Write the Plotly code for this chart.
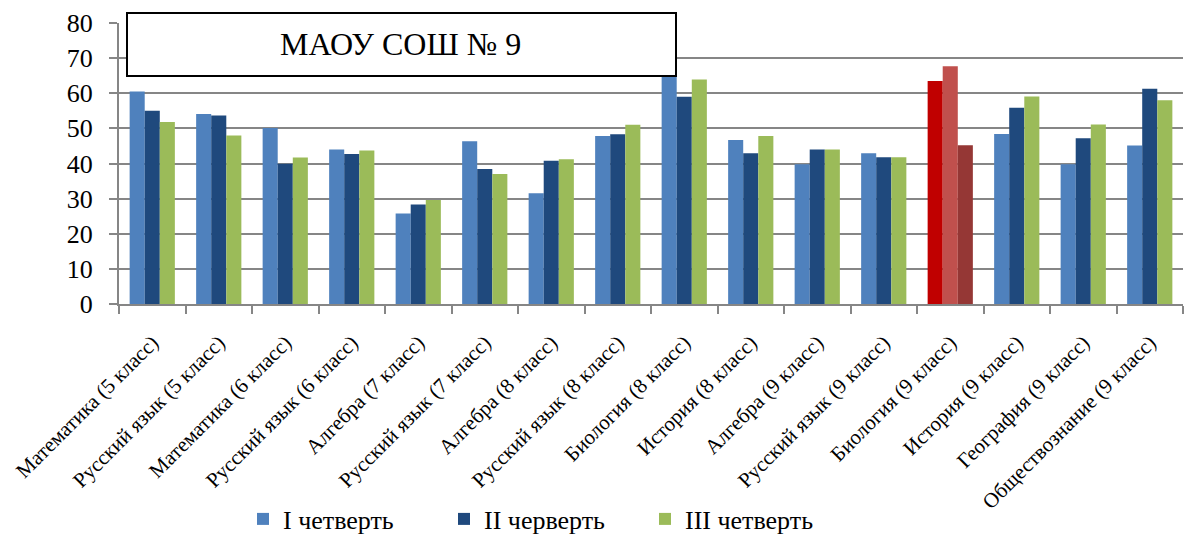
import plotly.graph_objects as go

categories = [
    "Математика (5 класс)", "Русский язык (5 класс)", "Математика (6 класс)",
    "Русский язык (6 класс)", "Алгебра (7 класс)", "Русский язык (7 класс)",
    "Алгебра (8 класс)", "Русский язык (8 класс)", "Биология (8 класс)",
    "История (8 класс)", "Алгебра (9 класс)", "Русский язык (9 класс)",
    "Биология (9 класс)", "История (9 класс)", "География (9 класс)",
    "Обществознание (9 класс)",
]
q1 = [60.5, 54.1, 50.1, 44.0, 25.8, 46.3, 31.5, 47.8, 66.5, 46.7, 39.8, 42.9, 63.5, 48.4, 39.8, 45.1]
q2 = [55.0, 53.7, 39.9, 42.7, 28.3, 38.4, 40.8, 48.3, 59.0, 42.9, 44.0, 41.8, 67.7, 55.9, 47.2, 61.3]
q3 = [51.8, 48.0, 41.7, 43.7, 29.6, 37.0, 41.2, 51.0, 63.9, 47.8, 44.0, 41.8, 45.2, 59.1, 51.1, 58.0]
series_names = ["I четверть", "II черверть", "III четверть"]
highlight = "Биология (9 класс)"
title_text = "МАОУ СОШ № 9"

base_colors = ["#4F81BD", "#1F497D", "#9BBB59"]
hl_colors = ["#C00000", "#C0504D", "#953735"]

fig = go.Figure()
for vals, name, bc, hc in zip([q1, q2, q3], series_names, base_colors, hl_colors):
    cols = [hc if c == highlight else bc for c in categories]
    fig.add_trace(go.Bar(
        x=categories, y=vals, name=name,
        marker=dict(color=cols, line=dict(width=0)),
    ))

serif = "Liberation Serif"
L, R, T, B = 119, 1183, 23, 304
W, H = 1194, 536
fig.update_layout(
    width=W, height=H,
    margin=dict(l=L, r=W - R, t=T, b=H - B, autoexpand=False),
    paper_bgcolor="white", plot_bgcolor="white",
    barmode="group", bargap=0.32, bargroupgap=0,
    font=dict(family=serif, color="black"),
    showlegend=True,
    legend=dict(
        orientation="h", xref="container", yref="container",
        x=243 / W, xanchor="left", y=(H - 519) / H, yanchor="middle",
        font=dict(size=26, family=serif, color="black"),
        itemwidth=30, tracegroupgap=0,
        entrywidth=156, entrywidthmode="pixels",
    ),
    xaxis=dict(
        tickangle=-45, tickfont=dict(size=21, family=serif, color="black"),
        showline=True, linecolor="#868686", linewidth=2,
        ticks="outside", tickcolor="#868686", ticklen=8, tickwidth=2,
        tickson="boundaries", showgrid=False, automargin=False,
        ticklabelstandoff=16,
    ),
    yaxis=dict(
        range=[0, 80], dtick=10, tickfont=dict(size=26, family=serif, color="black"),
        showline=True, linecolor="#868686", linewidth=2,
        ticks="outside", tickcolor="#868686", ticklen=8, tickwidth=2,
        showgrid=True, gridcolor="#868686", gridwidth=2, zeroline=False,
        automargin=False, ticklabelstandoff=11,
    ),
    shapes=[dict(
        type="rect", xref="paper", yref="paper",
        x0=(127 - L) / (R - L), x1=(676 - L) / (R - L),
        y0=(B - 76) / (B - T), y1=(B - 13) / (B - T),
        line=dict(color="black", width=2), fillcolor="white", layer="above",
    )],
    annotations=[dict(
        text=title_text, xref="paper", yref="paper",
        x=(400 - L) / (R - L), y=(B - 44) / (B - T),
        showarrow=False, font=dict(size=32, family=serif, color="black"),
        xanchor="center", yanchor="middle",
    )],
)

fig.write_html(
    "out.html",
    config={"displayModeBar": False},
    post_script="document.body.style.margin='0';document.body.style.overflow='hidden';",
)
